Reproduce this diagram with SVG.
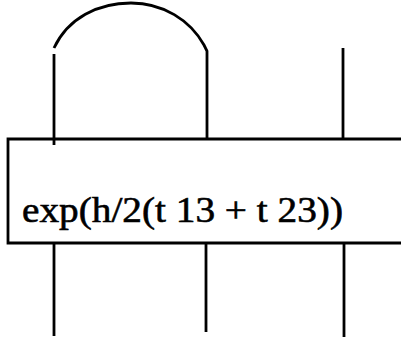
<svg xmlns="http://www.w3.org/2000/svg" width="401" height="337" viewBox="0 0 401 337">
<style>
.ln{fill:none;stroke:#000;stroke-width:2.8;stroke-linecap:butt}
.lbl{font-family:"Liberation Serif",serif;font-size:36px;fill:#000;stroke:#000;stroke-width:0.6}
</style>
<rect width="401" height="337" fill="#fff"/>
<g id="connectors">
<path class="ln" d="M54,48 C68,18 98,3 131,3 C163,3 190,20 204,45 L207,51 L207,139"/>
<path class="ln" d="M54,54 L54,145"/>
<path class="ln" d="M343,48 L343,139"/>
<path class="ln" d="M54,244 L54,336"/>
<path class="ln" d="M206,242 L206,332"/>
<path class="ln" d="M344,244 L344,337"/>
</g>
<g id="box">
<path class="ln" d="M401,139 L8,139 L8,243 L401,243"/>
<text class="lbl" x="22" y="222" textLength="321" lengthAdjust="spacingAndGlyphs">exp(h/2(t 13 + t 23))</text>
</g>
</svg>
